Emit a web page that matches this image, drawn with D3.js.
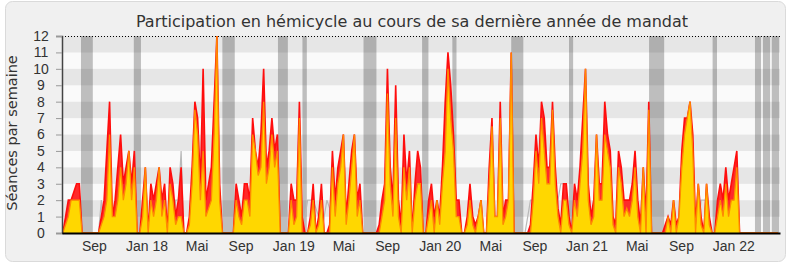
<!DOCTYPE html>
<html>
<head>
<meta charset="utf-8">
<script src="https://cdn.jsdelivr.net/npm/d3@7"></script>
<style>
  body { margin: 0; background: #fff; }
  svg { font-family: "DejaVu Sans", Verdana, sans-serif; }
</style>
</head>
<body>
<svg id="chart" width="790" height="267"></svg>
<script>
// weekly values, one entry per week of the legislature (week 0 = mid June 2017)
const presences = [
  0, 1, 2, 2, 2.5, 3, 3, 0, 0, 0,
  0, 0, 0, 0, 1, 2, 5, 8, 1, 2,
  4, 6, 3, 4, 5, 3, 5, 0, 0, 2,
  4, 0, 3, 2, 3, 4, 2, 3, 0, 4,
  3, 1, 2, 4, 0, 0, 1, 4, 8, 7,
  3, 10, 2, 3, 4, 8, 12, 3, 0, 0,
  0, 0, 0, 3, 2, 1, 3, 3, 2, 7,
  5, 4, 6, 10, 4, 5, 7, 5, 6, 0,
  0, 0, 0, 3, 2, 2, 8, 1, 0, 0,
  1, 3, 0, 1, 3, 0, 0, 0.5, 5, 2,
  4, 5, 6, 1, 3, 5, 6, 2, 3, 0,
  0, 0, 0, 0, 0, 0.5, 2, 3, 10, 4,
  2, 9, 2, 0.5, 6, 3, 5, 0, 3, 5,
  4, 0, 0, 2, 3, 1, 2, 1, 4, 8,
  11, 9, 6, 2, 2, 0, 0, 1, 3, 1,
  0.5, 1, 2, 0, 0, 4, 7, 1, 1, 8,
  1, 2, 2, 11, 0, 0, 0, 0, 0, 0,
  0.5, 3, 6, 4, 8, 7, 4, 4, 8, 4,
  1.5, 0.5, 3, 3, 1, 0, 3, 2, 4, 7,
  10, 3, 1, 2, 6, 3, 3, 8, 6, 5,
  1, 0.5, 5, 4, 2, 2, 2, 3, 5, 2,
  0.5, 4, 1, 8, 0, 0, 0, 0, 0, 0.5,
  1, 0.5, 2, 0.5, 1, 5, 7, 7, 8, 6,
  0.5, 3, 1, 0, 3, 1, 0, 0, 2, 3,
  2, 4, 2, 3, 4, 5, 0, 0, 0, 0,
  0, 0, 0, 0, 0, 0, 0, 0, 0, 0,
  0
];

const interventions = [
  0, 0.5, 1, 2, 2, 2, 2, 0, 0, 0,
  0, 0, 0, 0, 0.5, 1, 2, 6, 1, 1,
  2, 4, 2, 3, 5, 2, 4, 0, 0, 1,
  4, 0, 2, 1, 2, 4, 1, 2, 0, 3,
  2, 0.5, 1, 1, 0, 0, 0.5, 3, 7.5, 6,
  2, 5, 1, 1.5, 2, 6, 12, 2, 0, 0,
  0, 0, 0, 2, 1, 0.5, 2, 2, 1, 6,
  5, 3.5, 4, 8, 3, 4, 6, 4, 5, 0,
  0, 0, 0, 2, 0.5, 1, 7, 0, 0, 0,
  0.5, 2, 0, 0.5, 2, 0, 0, 0, 4, 1,
  3, 4, 6, 0.5, 2, 4, 6, 1, 2, 0,
  0, 0, 0, 0, 0, 0, 1, 2, 8.5, 3,
  1, 7, 1, 0, 4, 2, 4, 0, 2, 3,
  3, 0, 0, 1, 2, 0, 2, 0.5, 3, 5,
  10, 7, 5, 1, 1, 0, 0, 0.5, 2, 0.5,
  0, 1, 2, 0, 0, 3, 6.5, 1, 1, 7,
  0.5, 1, 2, 11, 0, 0, 0, 0, 0, 0,
  0, 2, 5, 3, 7, 5, 3, 3, 7.5, 3,
  1, 0, 2, 2, 0.5, 0, 2, 1, 3, 5,
  10, 2, 0.5, 1, 6, 2, 2, 6, 5, 4,
  0.5, 0, 4, 3, 1, 1.5, 1, 2, 4, 1,
  0, 4, 0, 7.5, 0, 0, 0, 0, 0, 0,
  1, 0, 2, 0, 1, 4, 6, 7, 8, 5,
  0, 3, 0.5, 0, 3, 0.5, 0, 0, 1, 2,
  1, 3, 1, 2, 2, 4, 0, 0, 0, 0,
  0, 0, 0, 0, 0, 0, 0, 0, 0, 0,
  0
];

// median of all deputies (only visible where it rises above the areas)
const mediane = [
  0, 0, 0, 0, 0, 0, 0, 0, 0, 0,
  0, 0, 0, 0, 2, 0, 0, 0, 0, 0,
  0, 0, 0, 0, 0, 0, 0, 0, 0, 0,
  0, 1, 0, 0, 0, 0, 0, 0, 0, 0,
  0, 2, 2, 5, 0, 0, 0, 0, 0, 0,
  0, 0, 0, 0, 0, 0, 0, 0, 0, 0,
  0, 0, 0, 0, 0, 0, 0, 0, 0, 0,
  0, 0, 0, 0, 0, 0, 0, 0, 0, 0,
  0, 0, 0, 0, 0, 0, 0, 0, 1, 2,
  2, 2, 1.5, 1, 0, 1, 2, 1.5, 0, 0,
  0, 0, 0, 0, 0, 0, 0, 0, 0, 0,
  0, 0, 0, 0, 0, 0, 0, 0, 0, 0,
  0, 0, 0, 0, 0, 0, 0, 0, 0, 0,
  0, 0, 0, 0, 0, 0, 0, 0, 0, 0,
  0, 0, 0, 0, 0, 0, 0, 0, 0, 0,
  0, 0, 0, 0, 0, 0, 0, 0, 0, 0,
  0, 0, 0, 0, 0, 0, 0, 0, 0, 1,
  2, 2, 0, 0, 0, 0, 0, 0, 0, 0,
  2, 3, 3, 0, 0, 0, 0, 0, 0, 0,
  0, 0, 0, 0, 0, 0, 0, 0, 0, 0,
  0, 0, 0, 0, 0, 0, 0, 0, 0, 0,
  0, 0, 0, 0, 0, 0, 0, 0, 0, 0,
  0, 0, 0, 0, 0, 0, 0, 0, 0, 0,
  0, 0, 2, 2, 2, 0, 0, 0, 0, 0,
  0, 0, 0, 0, 0, 0, 0, 0, 0, 0,
  0, 0, 0, 0, 0, 0, 0, 0, 0, 0,
  0
];

// parliamentary breaks, in weeks [start, end]
const vacances = [
  [6.9, 11.2], [26.1, 28.7], [58.3, 62.8], [78.5, 82.1], [87.4, 89],
  [109.6, 114.3], [130.9, 133.2], [141.9, 143.4], [163.3, 167.7],
  [184.3, 185.8], [213.4, 218.9], [236.5, 238.1], [251.9, 254.1],
  [254.8, 257.4], [258, 260.7]
];

const tickWeeks = [11.6, 30.7, 48.9, 64.9, 84.1, 102.3, 118.2, 137.3, 155.7, 171.7, 190.7, 208.9, 225, 244];
const tickLabels = ['Sep', 'Jan 18', 'Mai', 'Sep', 'Jan 19', 'Mai', 'Sep', 'Jan 20', 'Mai', 'Sep', 'Jan 21', 'Mai', 'Sep', 'Jan 22'];
const yTicks = [0, 1, 2, 3, 4, 5, 6, 7, 8, 9, 10, 11, 12];
const nbWeeks = 261;

const svg = d3.select('#chart');
const margin = { top: 36, right: 10, bottom: 34, left: 62 };
const width = 790 - margin.left - margin.right;
const height = 267 - margin.top - margin.bottom;

// frame
svg.append('rect')
  .attr('x', 5.5).attr('y', 1.5)
  .attr('width', 780).attr('height', 260)
  .attr('rx', 7)
  .attr('fill', '#f0f0f0')
  .attr('stroke', '#dadada');

svg.append('text')
  .attr('x', 412).attr('y', 27)
  .attr('text-anchor', 'middle')
  .style('font-size', '16px')
  .attr('fill', '#333')
  .text('Participation en hémicycle au cours de sa dernière année de mandat');

svg.append('text')
  .attr('transform', 'translate(17,133) rotate(-90)')
  .attr('text-anchor', 'middle')
  .style('font-size', '14.5px')
  .attr('fill', '#333')
  .text('Séances par semaine');

const g = svg.append('g').attr('transform', `translate(${margin.left},${margin.top})`);

const x = d3.scaleLinear().domain([0, nbWeeks]).range([0, width]);
const y = d3.scaleLinear().domain([0, 12]).range([height, 0]);

// alternating horizontal bands
g.selectAll('.band')
  .data(yTicks.slice(0, 12))
  .enter().append('rect')
  .attr('x', 0)
  .attr('y', d => y(d + 1))
  .attr('width', width)
  .attr('height', d => y(d) - y(d + 1))
  .attr('fill', d => d % 2 === 1 ? '#e6e6e6' : '#fafafa');

// breaks
g.selectAll('.vac')
  .data(vacances)
  .enter().append('rect')
  .attr('x', d => x(d[0]))
  .attr('y', 0)
  .attr('width', d => x(d[1]) - x(d[0]))
  .attr('height', height)
  .attr('fill', 'rgba(0,0,0,0.24)');

const line = vals => d3.line()
  .x((d, i) => x(i + 0.3))
  .y(d => y(d))(vals);

const area = vals => d3.area()
  .x((d, i) => x(i + 0.3))
  .y0(height)
  .y1(d => y(d))(vals);

g.append('path')
  .attr('d', line(mediane))
  .attr('fill', 'none')
  .attr('stroke', '#b8b8b8')
  .attr('stroke-width', 1.2);

g.append('path')
  .attr('d', area(presences))
  .attr('fill', '#ff2a2a');
g.append('path')
  .attr('d', line(presences))
  .attr('fill', 'none')
  .attr('stroke', '#ff0d0d')
  .attr('stroke-width', 1.6);

g.append('path')
  .attr('d', area(interventions))
  .attr('fill', '#ffd700');
g.append('path')
  .attr('d', line(interventions))
  .attr('fill', 'none')
  .attr('stroke', '#ff8a00')
  .attr('stroke-width', 1.3);

// top dotted line
g.append('line')
  .attr('x1', 0).attr('x2', width)
  .attr('y1', 0.5).attr('y2', 0.5)
  .attr('stroke', '#000')
  .attr('stroke-dasharray', '1,2');

// axes
const yAxis = g.append('g')
  .call(d3.axisLeft(y).tickValues(yTicks).tickSize(6).tickPadding(0));
yAxis.select('.domain').attr('stroke', '#444').attr('stroke-width', 1.5);
yAxis.selectAll('.tick line').attr('stroke', '#999');
yAxis.selectAll('.tick text')
  .attr('x', -21)
  .attr('text-anchor', 'middle')
  .style('font-size', '14px')
  .attr('fill', '#333');

const xAxis = g.append('g')
  .attr('transform', `translate(0,${height})`)
  .call(d3.axisBottom(x).tickValues(tickWeeks).tickSize(0).tickPadding(8)
    .tickFormat((d, i) => tickLabels[i]));
xAxis.select('.domain').attr('stroke', '#000').attr('stroke-width', 2);
xAxis.selectAll('.tick text')
  .style('font-size', '14px')
  .attr('fill', '#333');
</script>
</body>
</html>
